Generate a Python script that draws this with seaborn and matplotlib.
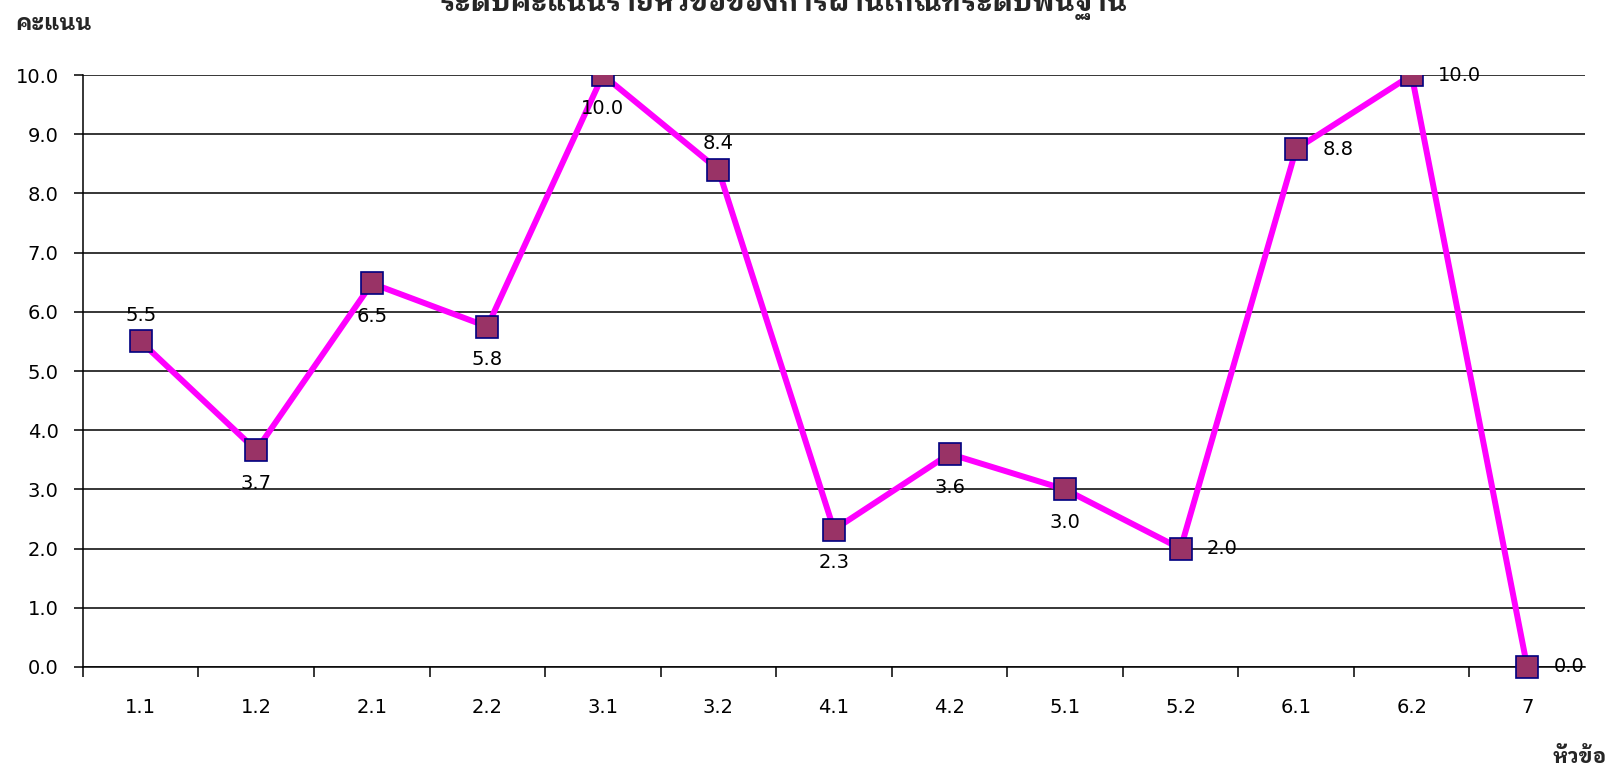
import matplotlib
matplotlib.use('Agg')
import matplotlib.pyplot as plt
import seaborn as sns
from matplotlib.patches import Rectangle
from matplotlib.ticker import FixedLocator

# คะแนนรายหัวข้อ
items = ['1.1', '1.2', '2.1', '2.2', '3.1', '3.2', '4.1', '4.2', '5.1', '5.2', '6.1', '6.2', '7']
scores = [5.5, 3.66, 6.48, 5.75, 10.0, 8.4, 2.32, 3.6, 3.0, 2.0, 8.75, 10.0, 0.0]
label_side = ['above', 'below', 'below', 'below', 'below', 'above', 'below',
              'below', 'below', 'right', 'right', 'right', 'right']
y_ticks = [0, 1, 2, 3, 4, 5, 6, 7, 8, 9, 10]

title = 'ระดับคะแนนรายหัวข้อของการผ่านเกณฑ์ระดับพื้นฐาน'
y_title = 'คะแนน'
x_title = 'หัวข้อ'

sns.set_theme(style='white')
plt.rcParams['font.family'] = ['DejaVu Sans', 'Noto Sans Thai Looped']
thai_font = ['IBM Plex Sans Thai Looped', 'Loma', 'Noto Sans Thai Looped', 'DejaVu Sans']

fig = plt.figure(figsize=(16.17, 7.71), dpi=100)
ax = fig.add_axes([0.0513, 0.1349, 0.9289, 0.7678])

sns.lineplot(x=items, y=scores, sort=False, ax=ax, color='#FF00FF', lw=4.3,
             marker='s', markersize=16.5, markerfacecolor='#993366',
             markeredgecolor='#000080', markeredgewidth=1.2, zorder=3)

ax.set_xlim(-0.5, len(items) - 0.5)
ax.set_ylim(0, 10)

# ตัดส่วนบนที่เกิน 10 แต่ให้จุดล่างสุดแสดงเต็ม
clip = Rectangle((0, -0.1), 1, 1.1, transform=ax.transAxes, facecolor='none')
for line in ax.lines:
    line.set_clip_path(clip)

# เส้นกริดแนวนอนสีดำ
ax.set_axisbelow(True)
ax.yaxis.grid(True, color='black', lw=1.1)
ax.xaxis.grid(False)
for side in ['top', 'right']:
    ax.spines[side].set_visible(False)
for side in ['left', 'bottom']:
    ax.spines[side].set_color('black')
    ax.spines[side].set_linewidth(1.1)

ax.set_yticks(y_ticks)
ax.set_yticklabels([f'{v:.1f}' for v in y_ticks])
ax.tick_params(axis='y', left=True, length=6.5, width=1.1, color='black',
               pad=11, labelsize=14, labelcolor='black')

ax.set_xticks(range(len(items)))
ax.set_xticklabels(items)
ax.xaxis.set_minor_locator(FixedLocator([i - 0.5 for i in range(len(items))]))
ax.tick_params(axis='x', which='major', bottom=False, length=0, pad=22,
               labelsize=14, labelcolor='black')
ax.tick_params(axis='x', which='minor', bottom=True, length=7, width=1.1,
               color='black', direction='out')
ax.set_xlabel('')
ax.set_ylabel('')

# ป้ายค่าข้อมูล
offsets = {'above': (0, 19), 'below': (0, -24), 'right': (19, 0)}
for i, (v, side) in enumerate(zip(scores, label_side)):
    ax.annotate(f'{v:.1f}', (i, v), xytext=offsets[side], textcoords='offset points',
                ha='left' if side == 'right' else 'center', va='center',
                fontsize=14, color='black', annotation_clip=False, zorder=4)

# ชื่อกราฟถูกตัดขอบบนเหมือนต้นฉบับ
fig.text(783 / 1617, 1 - 11 / 771, title, ha='center', va='baseline',
         fontsize=20, fontweight='bold', family=thai_font)
fig.text(15 / 1617, 1 - 23 / 771, y_title, ha='left', va='center',
         fontsize=16, fontweight='bold', family=thai_font)
fig.text(1607 / 1617, 1 - 757 / 771, x_title, ha='right', va='center',
         fontsize=15, fontweight='bold', family=thai_font)

fig.savefig('out.png', dpi=100)
